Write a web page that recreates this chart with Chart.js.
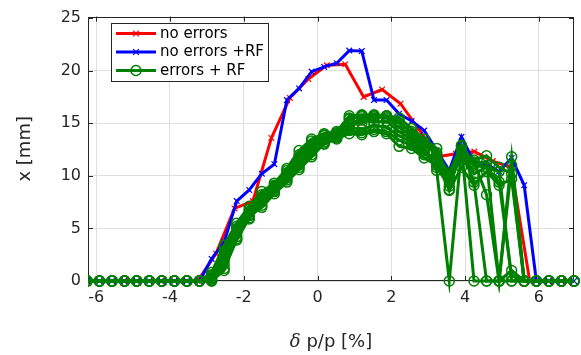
<!DOCTYPE html>
<html><head><meta charset="utf-8">
<script src="https://cdn.jsdelivr.net/npm/chart.js@4.4.1/dist/chart.umd.min.js"></script>
<style>html,body{margin:0;padding:0;background:#fff;}#wrap{width:581px;height:355px;}</style>
</head><body><div id="wrap"><canvas id="c" width="581" height="355"></canvas></div>
<script>
// ---- data ----
const xFine = [-6.25,-5.91,-5.57,-5.23,-4.90,-4.56,-4.22,-3.88,-3.54,-3.20,
  -2.87,-2.53,-2.19,-1.85,-1.51,-1.17,-0.83,-0.50,-0.16,0.18,
  0.52,0.86,1.20,1.53,1.87,2.21,2.55,2.89,3.23,3.57,
  3.90,4.24,4.58,4.92,5.26,5.60,5.93,6.27,6.61,6.95];
const xRed = [-6.25,-5.75,-5.25,-4.75,-4.25,-3.75,-3.25,-2.75,-2.25,-1.75,-1.25,-0.75,-0.25,
  0.25,0.75,1.25,1.75,2.25,2.75,3.25,3.75,4.25,4.75,5.25,5.75,6.25,6.75];
const noErrors = [0,0,0,0,0,0,0,2.6,6.9,7.6,13.6,17.4,19.2,
  20.5,20.6,17.5,18.2,16.85,14.4,11.8,12.1,12.3,11.4,10.8,0,0,0];
const noErrorsRF = [0,0,0,0,0,0,0,0,0,0,
  2.1,3.7,7.6,8.65,10.2,11.1,17.2,18.3,19.9,20.35,
  20.7,21.9,21.85,17.2,17.2,15.9,15.2,14.3,12.4,10.5,
  13.7,11.3,11.1,10.4,11.7,9.1,0,0,0,0];
const errorsRF1 = [0,0,0,0,0,0,0,0,0,0, 0.3,2.0,4.5,6.3,7.8,8.9,10.0,11.4,12.6,13.4, 13.8,14.8,15.0,15.7,15.5,14.6,13.8,12.6,10.5,0, 12.5,11.0,10.8,9.4,0.5,0,0,0,0,0];
const errorsRF2 = [0,0,0,0,0,0,0,0,0,0, 0.0,1.2,3.9,6.0,7.2,8.5,9.6,10.8,12.0,13.2, 13.6,14.3,14.1,14.4,14.2,13.4,12.9,12.0,11.9,8.7, 12.8,0,0,0,1.0,0,0,0,0,0];
const errorsRF3 = [0,0,0,0,0,0,0,0,0,0, 0.5,2.6,5.0,6.6,8.0,9.0,10.3,11.8,13.0,13.8, 13.9,15.4,15.6,15.5,15.6,15.0,14.2,13.2,12.2,9.4, 12.4,9.4,0,0,0,0,0,0,0,0];
const errorsRF4 = [0,0,0,0,0,0,0,0,0,0, 0.0,1.0,4.2,5.9,7.5,8.6,9.8,11.0,12.3,13.0, 13.5,14.0,13.9,14.2,14.0,12.8,12.6,11.7,11.0,10.0, 11.5,11.3,8.2,0,11.0,0,0,0,0,0];
const errorsRF5 = [0,0,0,0,0,0,0,0,0,0, 0.8,3.4,5.5,7.1,8.5,9.3,10.7,12.4,13.5,14.0, 14.2,15.7,15.8,15.8,15.7,15.5,14.5,13.5,12.6,9.8, 12.0,11.5,11.9,10.8,10.2,0,0,0,0,0];
const errorsRF6 = [0,0,0,0,0,0,0,0,0,0, 0.2,1.6,4.0,6.2,7.0,8.3,9.4,10.6,11.8,13.1, 13.7,14.6,14.4,14.8,14.6,13.8,13.2,12.2,11.4,8.6, 10.8,9.1,10.4,9.1,9.7,0,0,0,0,0];
const errorsRF7 = [0,0,0,0,0,0,0,0,0,0, 0.6,2.9,5.2,6.8,8.2,9.1,10.2,12.0,13.3,13.6, 14.0,15.5,15.7,15.6,15.7,15.2,14.0,13.0,12.0,10.3, 12.9,11.2,11.3,0,11.8,0,0,0,0,0];
const errorsRF8 = [0,0,0,0,0,0,0,0,0,0, 0.1,2.3,4.7,6.5,7.6,8.8,10.5,11.2,12.8,13.9, 14.1,15.0,15.3,15.1,15.2,14.2,13.5,12.4,10.8,9.0, 12.2,10.2,10.8,10.4,0,0,0,0,0,0];
const xTicks = [-6,-4,-2,0,2,4,6];
const yTicks = [0,5,10,15,20,25];
const legendLabels = ['no errors','no errors +RF','errors + RF'];
const xTitle = ['\u03b4',' p/p [%]'];
const yTitle = 'x [mm]';

// ---- styles ----
const RED='#ff0000', BLUE='#0000ff', GREEN='#008000', AX='#262626';
const FONT='DejaVu Sans';
const pts = (xs, ys) => xs.map((x,i)=>({x:x,y:ys[i]}));

const datasets = [
  {label:legendLabels[0], data:pts(xRed,noErrors), borderColor:RED, backgroundColor:RED,
   pointStyle:'crossRot', pointRadius:4, pointBorderWidth:1.2, borderWidth:3, order:3},
  {label:legendLabels[1], data:pts(xFine,noErrorsRF), borderColor:BLUE, backgroundColor:BLUE,
   pointStyle:'crossRot', pointRadius:4, pointBorderWidth:1.2, borderWidth:3, order:2}
];
[errorsRF1,errorsRF2,errorsRF3,errorsRF4,errorsRF5,errorsRF6,errorsRF7,errorsRF8].forEach((g,i)=>{
  datasets.push({label:legendLabels[2], data:pts(xFine,g), borderColor:GREEN,
    backgroundColor:'rgba(0,0,0,0)', pointBackgroundColor:'rgba(0,0,0,0)', pointBorderColor:GREEN,
    pointStyle:'circle', pointRadius:5, pointBorderWidth:1.5, borderWidth:3, order:1});
});
datasets.forEach(d=>{d.showLine=true; d.tension=0; d.clip={left:0,right:12,top:12,bottom:12}; d.pointHoverRadius=d.pointRadius;});

const frame = {
  id:'frame',
  beforeDatasetsDraw(chart){
    const {ctx, chartArea:a, scales:{x,y}} = chart;
    ctx.save();
    ctx.strokeStyle=AX; ctx.lineWidth=1;
    ctx.beginPath();
    xTicks.forEach(v=>{const p=Math.round(x.getPixelForValue(v))+0.5;
      ctx.moveTo(p,a.bottom); ctx.lineTo(p,a.bottom-5);
      ctx.moveTo(p,a.top); ctx.lineTo(p,a.top+5);});
    yTicks.forEach(v=>{const p=Math.round(y.getPixelForValue(v))+0.5;
      ctx.moveTo(a.left,p); ctx.lineTo(a.left+5,p);
      ctx.moveTo(a.right,p); ctx.lineTo(a.right-5,p);});
    ctx.stroke();
    ctx.strokeRect(Math.round(a.left)+0.5, Math.round(a.top)+0.5, Math.round(a.right-a.left)-1, Math.round(a.bottom-a.top)-1);
    ctx.restore();
  },
  afterDraw(chart){
    const {ctx, chartArea:a} = chart;
    ctx.save();
    // y title
    ctx.fillStyle=AX;
    ctx.font='18px "'+FONT+'"';
    ctx.textAlign='center'; ctx.textBaseline='middle';
    ctx.translate(25,(a.top+a.bottom)/2); ctx.rotate(-Math.PI/2);
    ctx.fillText(yTitle,0,0);
    ctx.setTransform(1,0,0,1,0,0);
    // x title (delta in serif italic)
    const f1='italic 18px "DejaVu Serif"', f2='18px "'+FONT+'"';
    ctx.font=f1; const w1=ctx.measureText(xTitle[0]).width;
    ctx.font=f2; const w2=ctx.measureText(xTitle[1]).width;
    let sx=(a.left+a.right)/2-(w1+w2)/2, ty=342;
    ctx.textAlign='left';
    ctx.font=f1; ctx.fillText(xTitle[0],sx,ty);
    ctx.font=f2; ctx.fillText(xTitle[1],sx+w1,ty);
    // legend
    const L={x:111,y:23,w:157,h:58};
    ctx.fillStyle='#fff'; ctx.fillRect(L.x,L.y,L.w,L.h);
    ctx.strokeStyle=AX; ctx.lineWidth=1; ctx.strokeRect(L.x+0.5,L.y+0.5,L.w,L.h);
    const rows=[33.5,52,70.5];
    const cols=[RED,BLUE,GREEN];
    const styles=[{pointStyle:'crossRot',radius:4,borderWidth:1.2},{pointStyle:'crossRot',radius:4,borderWidth:1.2},{pointStyle:'circle',radius:5,borderWidth:1.5}];
    rows.forEach((ry,i)=>{
      ctx.strokeStyle=cols[i]; ctx.lineWidth=3;
      ctx.beginPath(); ctx.moveTo(116,ry); ctx.lineTo(156,ry); ctx.stroke();
      ctx.fillStyle= i===2 ? 'rgba(0,0,0,0)' : cols[i];
      ctx.strokeStyle=cols[i]; ctx.lineWidth=styles[i].borderWidth;
      Chart.helpers.drawPoint(ctx, styles[i], 136, ry);
      ctx.fillStyle='#000'; ctx.font='15px "'+FONT+'"';
      ctx.textAlign='left'; ctx.textBaseline='middle';
      ctx.fillText(legendLabels[i],160,ry+0.5);
    });
    ctx.restore();
  }
};

new Chart(document.getElementById('c'), {
  type:'scatter',
  data:{datasets:datasets},
  plugins:[frame],
  options:{
    responsive:false, animation:false, devicePixelRatio:1,
    layout:{padding:{top:12,right:7,left:0,bottom:0}},
    plugins:{legend:{display:false}, tooltip:{enabled:false}},
    events:[],
    scales:{
      x:{type:'linear', min:-6.22, max:6.95,
        afterBuildTicks:s=>{s.ticks=xTicks.map(v=>({value:v}));},
        afterFit:s=>{s.height=74;},
        ticks:{font:{family:FONT,size:16}, color:AX, padding:7, maxRotation:0, autoSkip:false},
        grid:{color:'#dfdfdf', drawTicks:false, lineWidth:1}, border:{display:false}},
      y:{type:'linear', min:0, max:25.13,
        afterBuildTicks:s=>{s.ticks=yTicks.map(v=>({value:v}));},
        afterFit:s=>{s.width=88;},
        ticks:{font:{family:FONT,size:16}, color:AX, padding:7, autoSkip:false},
        grid:{color:'#dfdfdf', drawTicks:false, lineWidth:1}, border:{display:false}}
    }
  }
});
</script></body></html>
